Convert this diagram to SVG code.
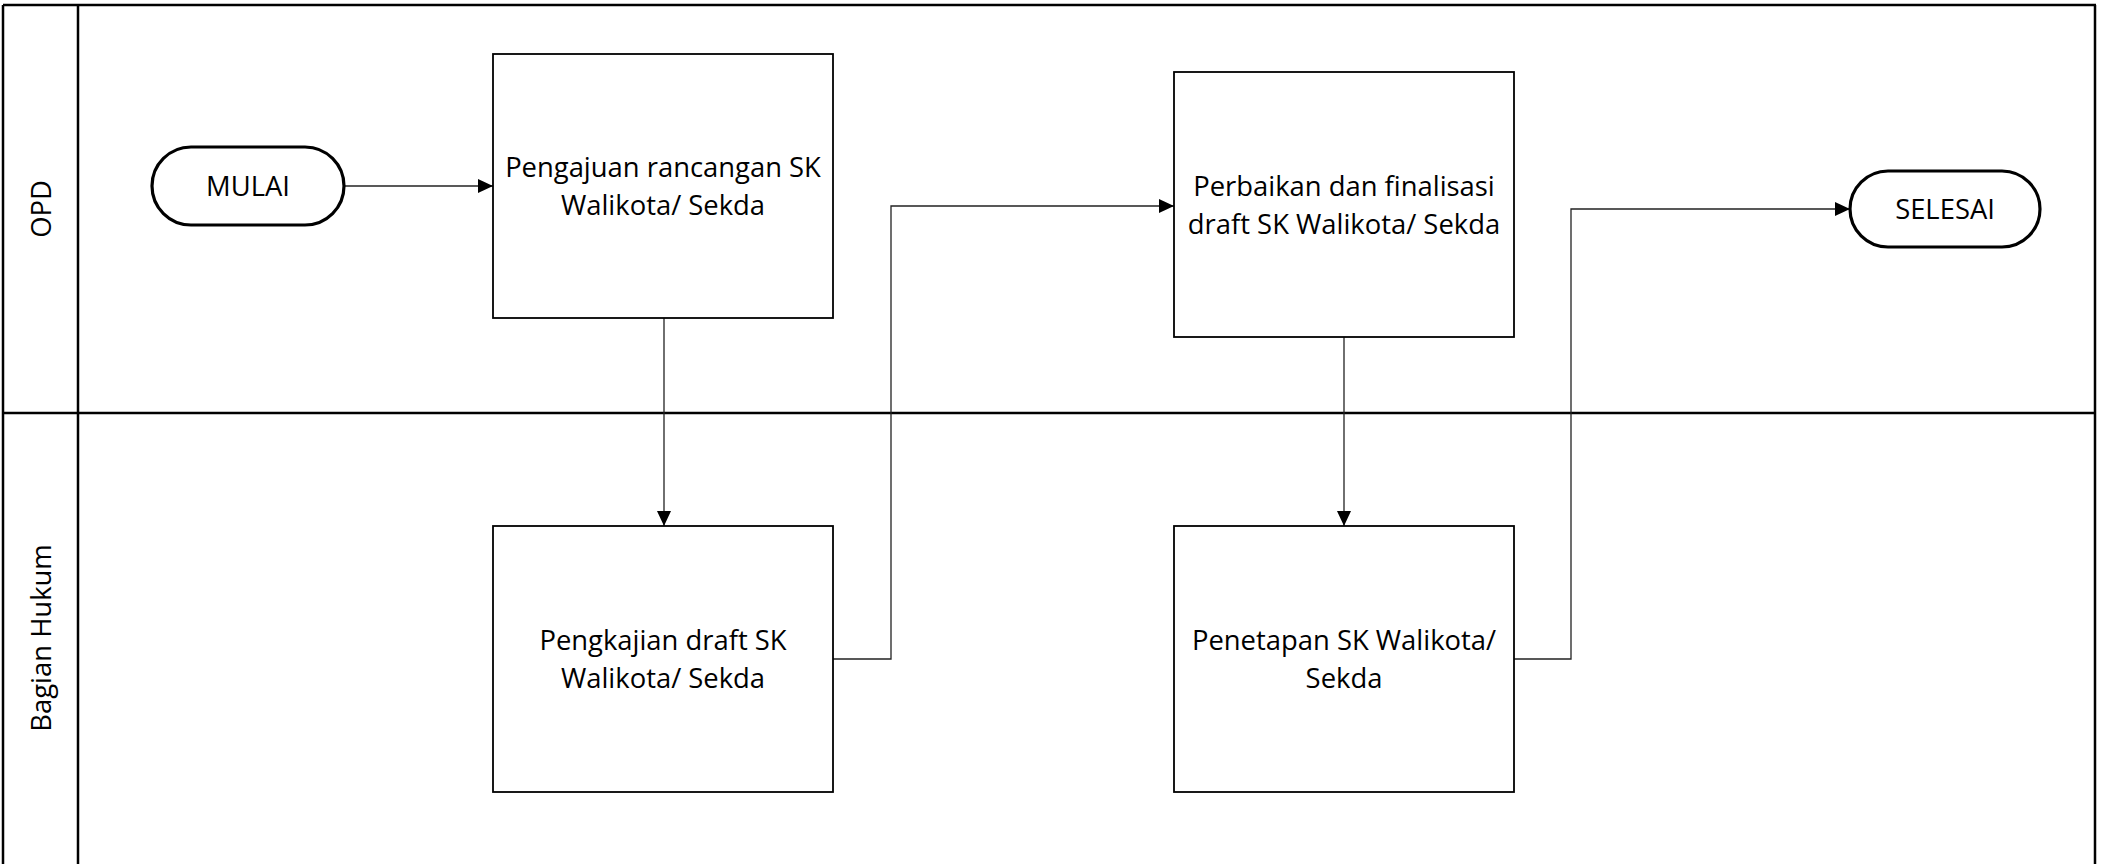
<svg xmlns="http://www.w3.org/2000/svg" width="2103" height="864" viewBox="0 0 2103 864">
<style>
  .lane { fill: none; stroke: #000; stroke-width: 2.5; }
  .box { fill: #fff; stroke: #000; stroke-width: 1.8; }
  .term { fill: #fff; stroke: #000; stroke-width: 3.2; }
  .conn { fill: none; stroke: #222; stroke-width: 1.3; marker-end: url(#arr); }
  .t { font-family: "Open Sans", "Liberation Sans", sans-serif; font-size: 27.4px; fill: #000; text-anchor: middle; }
</style>
<defs>
  <marker id="arr" markerWidth="15" markerHeight="14" refX="15" refY="7" orient="auto" markerUnits="userSpaceOnUse">
    <path d="M0,0 L15,7 L0,14 Z" fill="#000"/>
  </marker>
</defs>
<rect x="0" y="0" width="2103" height="864" fill="#fff"/>
<g id="lanes">
  <line class="lane" x1="3" y1="5" x2="2096" y2="5"/>
  <line class="lane" x1="3" y1="5" x2="3" y2="870"/>
  <line class="lane" x1="2095" y1="5" x2="2095" y2="870"/>
  <line class="lane" x1="78" y1="5" x2="78" y2="870"/>
  <line class="lane" x1="3" y1="413" x2="2096" y2="413"/>
  <text class="t" transform="translate(51,209) rotate(-90)" x="0" y="0">OPD</text>
  <text class="t" transform="translate(51,638) rotate(-90)" x="0" y="0">Bagian Hukum</text>
</g>
<g id="connectors">
  <path class="conn" d="M344,186 H493"/>
  <path class="conn" d="M664,318 V526"/>
  <path class="conn" d="M833,659 H891 V206 H1174"/>
  <path class="conn" d="M1344,337 V526"/>
  <path class="conn" d="M1514,659 H1571 V209 H1850"/>
</g>
<g id="mulai">
  <rect class="term" x="152" y="147" width="192" height="78" rx="39" ry="39"/>
  <text class="t" x="248" y="196">MULAI</text>
</g>
<g id="pengajuan">
  <rect class="box" x="493" y="54" width="340" height="264"/>
  <text class="t" x="663" y="177">Pengajuan rancangan SK</text>
  <text class="t" x="663" y="215">Walikota/ Sekda</text>
</g>
<g id="pengkajian">
  <rect class="box" x="493" y="526" width="340" height="266"/>
  <text class="t" x="663" y="650">Pengkajian draft SK</text>
  <text class="t" x="663" y="688">Walikota/ Sekda</text>
</g>
<g id="perbaikan">
  <rect class="box" x="1174" y="72" width="340" height="265"/>
  <text class="t" x="1344" y="196">Perbaikan dan finalisasi</text>
  <text class="t" x="1344" y="234">draft SK Walikota/ Sekda</text>
</g>
<g id="penetapan">
  <rect class="box" x="1174" y="526" width="340" height="266"/>
  <text class="t" x="1344" y="650">Penetapan SK Walikota/</text>
  <text class="t" x="1344" y="688">Sekda</text>
</g>
<g id="selesai">
  <rect class="term" x="1850" y="171" width="190" height="76" rx="38" ry="38"/>
  <text class="t" x="1945" y="219">SELESAI</text>
</g>
</svg>
